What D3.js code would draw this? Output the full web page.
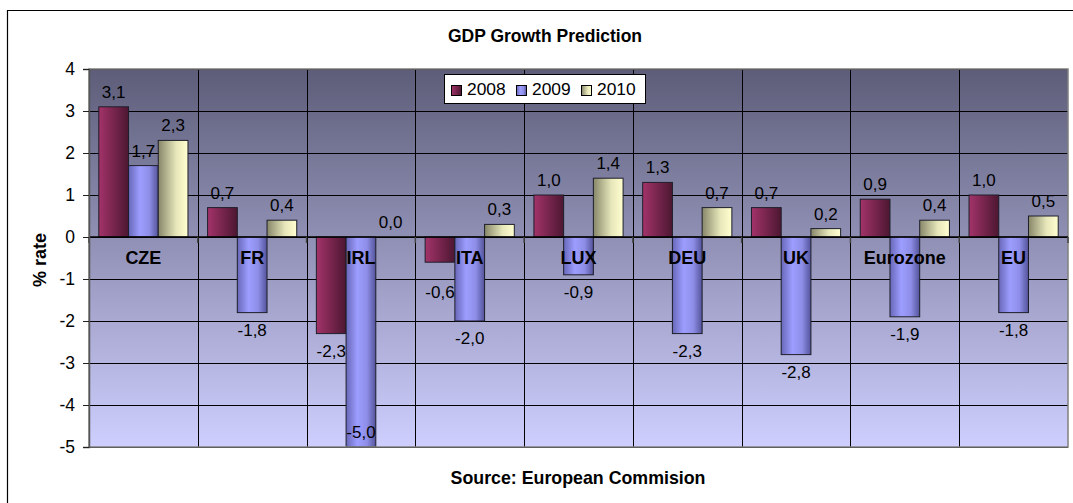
<!DOCTYPE html>
<html>
<head>
<meta charset="utf-8">
<script src="https://cdn.jsdelivr.net/npm/d3@7"></script>
<style>
  html, body { margin: 0; padding: 0; background: #fff; }
  svg { display: block; font-family: "Liberation Sans", Arial, sans-serif; }
</style>
</head>
<body>
<svg id="chart" width="1073" height="503"></svg>
<script>
// GDP growth forecasts by economy and year
const categories = ["CZE", "FR", "IRL", "ITA", "LUX", "DEU", "UK", "Eurozone", "EU"];
const years = ["2008", "2009", "2010"];
const growth2008 = [3.1, 0.7, -2.3, -0.6, 1.0, 1.3, 0.7, 0.9, 1.0];
const growth2009 = [1.7, -1.8, -5.0, -2.0, -0.9, -2.3, -2.8, -1.9, -1.8];
const growth2010 = [2.3, 0.4, 0.0, 0.3, 1.4, 0.7, 0.2, 0.4, 0.5];
const yTicks = [-5, -4, -3, -2, -1, 0, 1, 2, 3, 4];

const seriesValues = [growth2008, growth2009, growth2010];
const rows = categories.map((c, i) => ({
  cat: c,
  vals: years.map((y, j) => ({ year: y, value: seriesValues[j][i] }))
}));

const svg = d3.select("#chart");
const W = 1073, H = 503;
const plot = { left: 89, right: 1068, top: 69, bottom: 447 };

// decimal comma, plain hyphen for negatives
const locale = d3.formatLocale({ decimal: ",", thousands: ".", grouping: [3], currency: ["", ""], minus: "-" });
const fmt = locale.format(".1f");
const fmtTick = locale.format("d");

// ---- gradients ----
const defs = svg.append("defs");
const bg = defs.append("linearGradient").attr("id", "plotBg")
  .attr("x1", 0).attr("y1", 0).attr("x2", 0).attr("y2", 1);
bg.append("stop").attr("offset", 0).attr("stop-color", "#5d5d79");
bg.append("stop").attr("offset", 1).attr("stop-color", "#cfcfff");

const barStops = {
  "2008": [[0, "#a3336a"], [1, "#4c1731"]],
  "2009": [[0, "#6767b8"], [0.38, "#9d9dff"], [0.7, "#8e8ee8"], [1, "#53539a"]],
  "2010": [[0, "#87876a"], [0.6, "#e6e6ba"], [1, "#ffffd0"]]
};
years.forEach(y => {
  const g = defs.append("linearGradient").attr("id", "bar" + y)
    .attr("x1", 0).attr("y1", 0).attr("x2", 1).attr("y2", 0);
  barStops[y].forEach(s => g.append("stop").attr("offset", s[0]).attr("stop-color", s[1]));
});

// ---- outer frame ----
svg.append("path")
  .attr("d", `M7.5,${H + 5} V10.5 H${W + 5}`)
  .attr("fill", "none").attr("stroke", "#000").attr("stroke-width", 1.2);

// ---- scales ----
const y = d3.scaleLinear().domain([-5, 4]).range([plot.bottom, plot.top]);
const x0 = d3.scaleBand().domain(categories).range([plot.left, plot.right]).padding(0);
const x1 = d3.scaleBand().domain(years).range([0, x0.bandwidth()])
  .paddingInner(0).paddingOuter(0.33);

// ---- plot background ----
svg.append("rect")
  .attr("x", plot.left).attr("y", plot.top)
  .attr("width", plot.right - plot.left).attr("height", plot.bottom - plot.top)
  .attr("fill", "url(#plotBg)");

// horizontal gridlines
svg.append("g")
  .attr("transform", `translate(${plot.left},0)`)
  .call(d3.axisLeft(y).tickValues(yTicks).tickSize(-(plot.right - plot.left)).tickFormat(""))
  .call(g => g.select(".domain").remove())
  .call(g => g.selectAll("line").attr("stroke", "#000").attr("stroke-width", 1));

// vertical category dividers
const bounds = categories.slice(1).map(c => x0(c));
svg.append("g").selectAll("line").data(bounds).join("line")
  .attr("x1", d => Math.round(d) + 0.5).attr("x2", d => Math.round(d) + 0.5)
  .attr("y1", plot.top).attr("y2", plot.bottom)
  .attr("stroke", "#000").attr("stroke-width", 1);

// ---- bars ----
const y0 = y(0);
const groups = svg.append("g").selectAll("g").data(rows).join("g")
  .attr("transform", d => `translate(${x0(d.cat)},0)`);

groups.selectAll("rect").data(d => d.vals).join("rect")
  .attr("x", d => x1(d.year))
  .attr("width", x1.bandwidth())
  .attr("y", d => Math.min(y(d.value), y0))
  .attr("height", d => Math.abs(y(d.value) - y0))
  .attr("fill", d => "url(#bar" + d.year + ")")
  .attr("stroke", "#1e1e2a").attr("stroke-width", 1);

// ---- plot border ----
svg.append("rect")
  .attr("x", plot.left).attr("y", plot.top)
  .attr("width", plot.right - plot.left).attr("height", plot.bottom - plot.top)
  .attr("fill", "none").attr("stroke", "#808080").attr("stroke-width", 1.5);

// category axis at zero with small boundary ticks
svg.append("line")
  .attr("x1", plot.left).attr("x2", plot.right)
  .attr("y1", y0).attr("y2", y0)
  .attr("stroke", "#000").attr("stroke-width", 1.6);
svg.append("g").selectAll("line").data(bounds.concat([plot.left, plot.right])).join("line")
  .attr("x1", d => d).attr("x2", d => d)
  .attr("y1", y0).attr("y2", y0 + 6)
  .attr("stroke", "#444").attr("stroke-width", 1.5);

// value axis
svg.append("g")
  .attr("transform", `translate(${plot.left},0)`)
  .call(d3.axisLeft(y).tickValues(yTicks).tickSize(6).tickPadding(8).tickFormat(fmtTick))
  .call(g => g.select(".domain").attr("stroke", "#555").attr("stroke-width", 1.5))
  .call(g => g.selectAll("line").attr("stroke", "#222"))
  .call(g => g.selectAll("text")
    .attr("font-family", "Liberation Sans, Arial, sans-serif")
    .attr("font-size", "17.5px").attr("fill", "#000"));

// category labels
svg.append("g").selectAll("text").data(categories).join("text")
  .attr("x", d => x0(d) + x0.bandwidth() / 2)
  .attr("y", y0 + 27)
  .attr("text-anchor", "middle")
  .attr("font-size", "18px").attr("font-weight", "bold").attr("fill", "#000")
  .text(d => d);

// value labels
groups.selectAll("text").data(d => d.vals).join("text")
  .attr("x", d => x1(d.year) + x1.bandwidth() / 2)
  .attr("y", d => {
    if (d.value >= 0) return y(d.value) - 9;
    const top = Math.max(y(d.value) + 11, y0 + 49);
    return Math.min(top + 12, plot.bottom - 9);
  })
  .attr("text-anchor", "middle")
  .attr("font-size", "17px").attr("fill", "#000")
  .text(d => fmt(d.value));

// ---- legend ----
const lg = svg.append("g").attr("transform", "translate(444,74)");
lg.append("rect").attr("x", 0.5).attr("y", 0.5).attr("width", 201).attr("height", 29)
  .attr("fill", "#fff").attr("stroke", "#000").attr("stroke-width", 1);
const items = lg.selectAll("g").data(years).join("g")
  .attr("transform", (d, i) => `translate(${7 + i * 65},0)`);
items.append("rect").attr("x", 0.5).attr("y", 11.5).attr("width", 10).attr("height", 10)
  .attr("fill", d => "url(#bar" + d + ")").attr("stroke", "#000").attr("stroke-width", 1);
items.append("text").attr("x", 16).attr("y", 21)
  .attr("font-size", "17.4px").attr("fill", "#000").text(d => d);

// ---- titles ----
svg.append("text").attr("x", 545).attr("y", 42)
  .attr("text-anchor", "middle").attr("font-size", "17.5px").attr("font-weight", "bold")
  .text("GDP Growth Prediction");
svg.append("text").attr("x", 578).attr("y", 484)
  .attr("text-anchor", "middle").attr("font-size", "17.8px").attr("font-weight", "bold")
  .text("Source: European Commision");
svg.append("text")
  .attr("transform", "translate(46,260) rotate(-90)")
  .attr("text-anchor", "middle").attr("font-size", "18px").attr("font-weight", "bold")
  .text("% rate");
</script>
</body>
</html>
